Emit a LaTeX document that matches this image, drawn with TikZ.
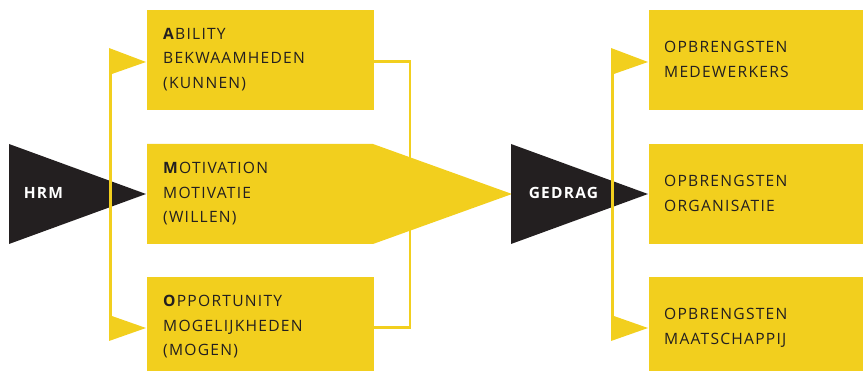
\documentclass[tikz,border=0pt]{standalone}
\usepackage{fontspec}
\setmainfont{Open Sans}
\definecolor{ylw}{HTML}{F2CF1E}
\definecolor{blk}{HTML}{231F20}
\begin{document}
\begin{tikzpicture}[x=1pt,y=-1pt,
  box/.style={fill=ylw, draw=none, inner sep=0, anchor=north west},
  lbl/.style={anchor=north west, inner sep=0, align=left, text=blk,
    font=\fontsize{15.6}{24.5}\selectfont\addfontfeatures{LetterSpace=8}},
  wire/.style={draw=ylw, line width=2.5pt},
  flag/.style={fill=ylw},
  tri/.style={fill=blk},
  wlbl/.style={text=white, inner sep=0,
    font=\bfseries\fontsize{15.5}{15.5}\selectfont\addfontfeatures{LetterSpace=8}}]
\useasboundingbox (0,0) rectangle (863,371);

% left boxes
\node[box, minimum width=227pt, minimum height=100pt] (A) at (147,10) {};
\node[box, minimum width=227pt, minimum height=100pt] (O) at (147,277) {};
\fill[ylw] (147,144) -- (373,144) -- (512,194) -- (373,244) -- (147,244) -- cycle;
\coordinate (Mtip) at (512,194);

% right boxes
\node[box, minimum width=214pt, minimum height=100pt] (R1) at (649,10) {};
\node[box, minimum width=214pt, minimum height=100pt] (R2) at (649,144) {};
\node[box, minimum width=214pt, minimum height=100pt] (R3) at (649,277) {};

% black triangles
\fill[tri] (9,144) -- (146,194) -- (9,244) -- cycle;
\fill[tri] (511,144) -- (648,194) -- (511,244) -- cycle;
\node[wlbl] (hrm) at (43.5,193) {HRM};
\node[wlbl] (gedrag) at (563.5,193) {GEDRAG};

% left bracket with flags
\coordinate (LT) at (110.5,74);
\coordinate (LB) at (110.5,316);
\draw[wire] (LT) -- (LB);
\fill[flag] (109,48) -- (146,62) -- (109,75) -- cycle;
\fill[flag] (109,315) -- (146,328) -- (109,341) -- cycle;

% right bracket of the A and O boxes
\coordinate (RT) at (410,61.5);
\coordinate (RB) at (410,327.5);
\draw[wire] (A.east |- RT) -- (RT) -- (RB) -- (O.east |- RB);

% right bracket with flags
\coordinate (QT) at (612.5,74);
\coordinate (QB) at (612.5,316);
\draw[wire] (QT) -- (QB);
\fill[flag] (611,48) -- (648,62) -- (611,75) -- cycle;
\fill[flag] (611,315) -- (648,328) -- (611,341) -- cycle;

% labels
\node[lbl] (tA) at (163,28) {\textbf{A}BILITY\\BEKWAAMHEDEN\\(KUNNEN)};
\node[lbl] (tM) at (163,162) {\textbf{M}OTIVATION\\MOTIVATIE\\(WILLEN)};
\node[lbl] (tO) at (163,295) {\textbf{O}PPORTUNITY\\MOGELIJKHEDEN\\(MOGEN)};
\node[lbl] (t1) at (664,41) {OPBRENGSTEN\\MEDEWERKERS};
\node[lbl] (t2) at (664,175) {OPBRENGSTEN\\ORGANISATIE};
\node[lbl] (t3) at (664,308) {OPBRENGSTEN\\MAATSCHAPPIJ};
\end{tikzpicture}
\end{document}
